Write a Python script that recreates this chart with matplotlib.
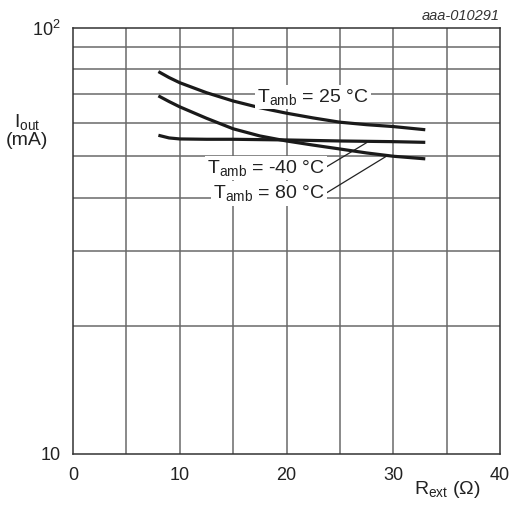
import matplotlib
matplotlib.use("Agg")
import matplotlib.pyplot as plt

plt.rcParams['font.family'] = ['Liberation Sans', 'DejaVu Sans']
plt.rcParams['mathtext.fontset'] = 'custom'
plt.rcParams['mathtext.rm'] = 'Liberation Sans'
plt.rcParams['mathtext.it'] = 'Liberation Sans:italic'

# Data (R_ext in ohm, I_out in mA)
r_25 = [8, 9, 10, 12.5, 15, 17.5, 20, 22.5, 25, 27.5, 30, 33]
i_25 = [79.0, 76.5, 74.4, 70.5, 67.4, 65.0, 63.1, 61.5, 60.1, 59.3, 58.7, 57.7]

r_80 = [8, 9, 10, 12.5, 15, 17.5, 20, 22.5, 25, 27.5, 30, 33]
i_80 = [69.3, 67.2, 65.3, 61.4, 58.0, 55.8, 54.3, 53.1, 52.0, 50.9, 50.0, 49.3]

r_m40 = [8, 9, 10, 12.5, 15, 20, 25, 30, 33]
i_m40 = [56.0, 55.2, 54.9, 54.8, 54.8, 54.6, 54.3, 54.1, 53.9]

x_ticks = [0, 10, 20, 30, 40]
y_ticks = [10, 100]
y_tick_labels = ['10', r'10$^{\mathregular{2}}$']
x_grid = [5, 10, 15, 20, 25, 30, 35]
y_grid = [20, 30, 40, 50, 60, 70, 80, 90]

fig = plt.figure(figsize=(5.09, 5.07), dpi=100)
ax = fig.add_axes([73/509, 53/507, 427/509, 426/507])
ax.set_yscale('log')
ax.set_xlim(0, 40)
ax.set_ylim(10, 100)

for xv in x_grid:
    ax.axvline(xv, color='#6a6a6a', lw=1.1, zorder=1)
for yv in y_grid:
    ax.axhline(yv, color='#6a6a6a', lw=1.1, zorder=1)

lc = '#1a1a1a'
for xs, ys in [(r_25, i_25), (r_80, i_80), (r_m40, i_m40)]:
    ax.plot(xs, ys, color=lc, lw=2.3, zorder=3, solid_capstyle='butt',
            solid_joinstyle='round')

ax.set_xticks(x_ticks)
ax.set_yticks(y_ticks)
ax.set_yticklabels(y_tick_labels)
ax.yaxis.set_minor_locator(matplotlib.ticker.NullLocator())
ax.tick_params(length=0, labelsize=13, colors='#222222', pad=9)
ax.tick_params(axis='y', pad=9)
for s in ax.spines.values():
    s.set_color('#333333')
    s.set_linewidth(1.1)

fs = 14
box = dict(facecolor='white', edgecolor='none', pad=1.5)
ax.text(22.5, 69.0, r'T$_{\mathregular{amb}}$ = 25 °C', fontsize=fs, ha='center', va='center',
        bbox=box, zorder=4, color='#222222')
ax.text(23.6, 47.0, r'T$_{\mathregular{amb}}$ = -40 °C', fontsize=fs, ha='right', va='center',
        bbox=box, zorder=4, color='#222222')
ax.text(23.6, 40.9, r'T$_{\mathregular{amb}}$ = 80 °C', fontsize=fs, ha='right', va='center',
        bbox=box, zorder=4, color='#222222')
ax.plot([23.77, 27.5], [47.26, 53.8], color='#222222', lw=0.9, zorder=2)
ax.plot([23.77, 29.3], [41.05, 49.9], color='#222222', lw=0.9, zorder=2)

fig.text(27/509, 1 - 122/507, r'I$_{\mathregular{out}}$', fontsize=fs, ha='center', va='center', color='#222222')
fig.text(27/509, 1 - 140/507, '(mA)', fontsize=fs, ha='center', va='center', color='#222222')
fig.text(481/509, 1 - 490/507, r'R$_{\mathregular{ext}}$ (Ω)', fontsize=fs, ha='right', va='center', color='#222222')
fig.text(500/509, 1 - 16/507, 'aaa-010291', fontsize=10.5, ha='right', va='center',
         style='italic', color='#333333')

fig.savefig('out.png', dpi=100)
